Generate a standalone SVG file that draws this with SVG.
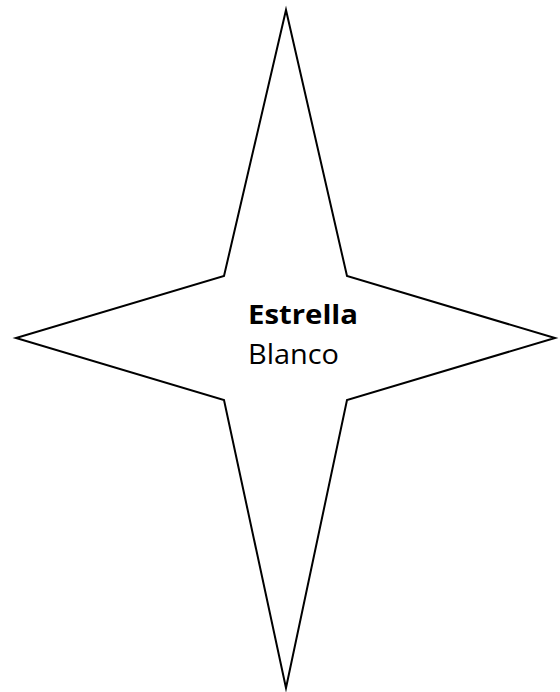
<svg xmlns="http://www.w3.org/2000/svg" width="560" height="692" viewBox="0 0 560 692">
<style>
.shape{fill:#ffffff;stroke:#000000;stroke-width:2;stroke-linejoin:miter;stroke-miterlimit:20}
.t{font-family:"Open Sans","Liberation Sans",sans-serif;font-size:27px;fill:#000000}
.b{font-weight:bold}
</style>
<rect width="560" height="692" fill="#ffffff"/>
<g id="estrella">
<polygon class="shape" points="286,10 347,276 555,338 347,400 286,688 224,400 16,338 224,276"/>
<text class="t b" x="248" y="324" textLength="110" lengthAdjust="spacingAndGlyphs">Estrella</text>
<text class="t" x="248" y="364" textLength="91" lengthAdjust="spacingAndGlyphs">Blanco</text>
</g>
<g id="connectors"></g>
</svg>
